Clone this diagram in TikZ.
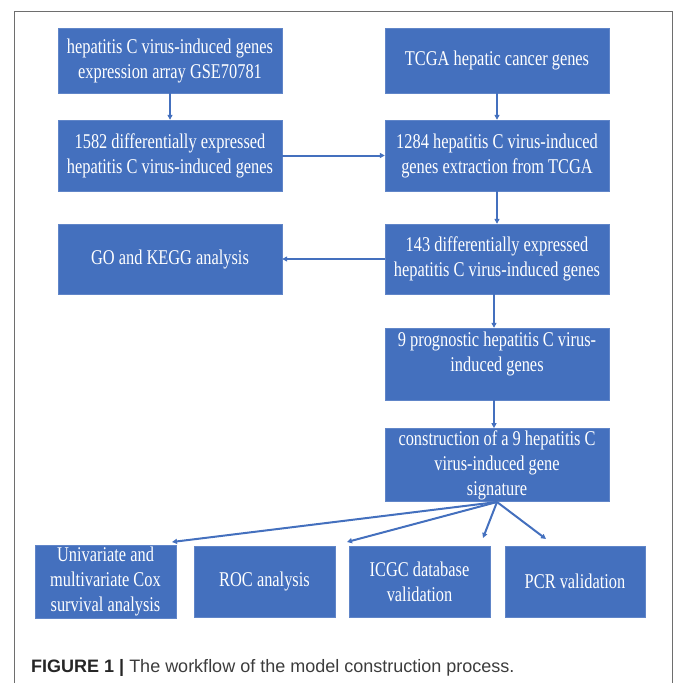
\documentclass[tikz,border=0pt]{standalone}
\usepackage{fontspec}
\setmainfont{Liberation Serif}
\newfontfamily\boxfont[FakeStretch=0.78]{Liberation Serif}
\newfontfamily\capfont{Liberation Sans}
\usetikzlibrary{arrows.meta,positioning}
\definecolor{boxblue}{RGB}{68,112,190}
\definecolor{linegray}{RGB}{110,110,110}
\definecolor{capgray}{RGB}{60,60,60}

\begin{document}
\begin{tikzpicture}[
  x=1pt,y=-1pt,
  box/.style={draw=boxblue!85!white,fill=boxblue,text=white,align=center,minimum width=224pt,minimum height=70pt,inner sep=2pt,font=\boxfont\fontsize{21}{25}\selectfont},
  sbox/.style={box,minimum width=141pt,minimum height=71pt},
  arr/.style={-{Triangle[length=5pt,width=5pt]},line width=2pt,boxblue}
]
  \useasboundingbox (0,0) rectangle (673,683);
  \draw[linegray,line width=1pt] (14,684) -- (14,11) -- (672,11) -- (672,684);

  \node[box,minimum height=65pt] (gse) at (170,60.5) {hepatitis C virus-induced genes\\expression array GSE70781};
  \node[box,minimum height=65pt] (tcga) at (497,60.5) {TCGA hepatic cancer genes};
  \node[box,minimum height=71pt] (deg) at (170,155.5) {1582 differentially expressed\\hepatitis C virus-induced genes};
  \node[box,minimum height=71pt] (ext) at (497,155.5) {1284 hepatitis C virus-induced\\genes extraction from TCGA};
  \node[box] (go) at (170,259) {GO and KEGG analysis};
  \node[box] (deg2) at (497,259) {143 differentially expressed\\hepatitis C virus-induced genes};
  \node[box,minimum height=72pt,text depth=25pt] (prog) at (497,364) {9 prognostic hepatitis C virus-\\induced genes};
  \node[box] (sig) at (497,465) {construction of a 9 hepatitis C\\virus-induced gene\\signature};

  \node[sbox] (cox) at (105.5,581.5) {Univariate and\\multivariate Cox\\survival analysis};
  \node[sbox] (roc) at (264.5,581.5) {ROC analysis};
  \node[sbox] (icgc) at (419.5,581.5) {ICGC database\\validation};
  \node[sbox,minimum width=140pt] (pcr) at (575,581.5) {PCR validation};

  \coordinate (src) at (497,502);
  \coordinate (tcox) at (172,542);
  \coordinate (troc) at (347,542);
  \coordinate (ticgc) at (483,538);
  \coordinate (tpcr) at (546,539);

  \draw[arr] (gse) -- (deg);
  \draw[arr] (tcga) -- (ext);
  \draw[arr] (deg) -- (ext);
  \draw[arr] (ext) -- (deg2);
  \draw[arr] (deg2) -- (go);
  \draw[arr] (deg2.south -| 494,0) -- (prog.north -| 494,0);
  \draw[arr] (prog.south -| 494,0) -- (sig.north -| 494,0);
  \draw[arr] (src) -- (tcox);
  \draw[arr] (src) -- (troc);
  \draw[arr] (src) -- (ticgc);
  \draw[arr] (src) -- (tpcr);

  \node[anchor=base west,inner sep=0pt,font=\capfont\fontsize{18}{20}\selectfont,text=capgray] (cap) at (31,672) {\textbf{\color{black!85}FIGURE 1 |} The workflow of the model construction process.};
\end{tikzpicture}
\end{document}
